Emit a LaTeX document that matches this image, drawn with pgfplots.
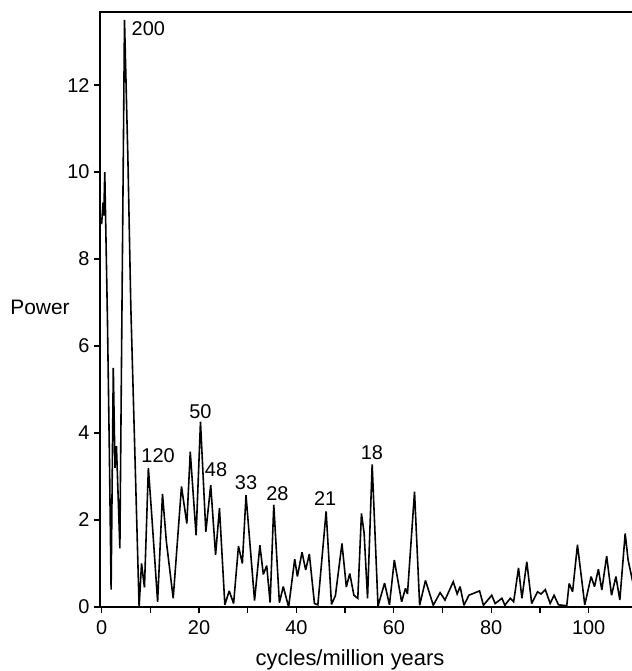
\documentclass[border=0pt]{standalone}
\usepackage{fontspec}
\setmainfont{Liberation Sans}
\usepackage{pgfplots}
\pgfplotsset{compat=1.18}
\begin{document}
\begin{tikzpicture}
\begin{axis}[
  at={(0,0)}, anchor=south west,
  scale only axis, width=532bp, height=595bp,
  xmin=-0.33, xmax=108.9, ymin=0, ymax=13.68,
  axis x line*=bottom, axis y line*=left,
  xtick={0,20,...,100}, minor xtick={10,30,...,110},
  ytick={0,2,...,12},
  tick align=outside, major tick length=6bp, minor tick length=6bp,
  tick style={line width=1.3pt, black},
  axis line style={line width=1.5pt, -},
  tick label style={font=\fontsize{20}{24}\selectfont},
  /pgf/number format/assume math mode=true,
  xticklabel style={yshift=-4bp},
  yticklabel style={xshift=-1bp},
  clip=true,
]
\addplot[black, line width=1.6pt, mark=none, line join=miter, miter limit=3] coordinates {
(0.0,8.8) (0.3,9.3) (0.45,9.0) (0.65,10.0) (1.2,6.6) (1.6,3.5) (1.95,0.4)
(2.4,5.5) (2.75,3.2) (3.05,3.7) (3.75,1.35) (4.7,13.5) (5.4,10.3) (6.0,6.9)
(7.7,0.0) (8.2,1.0) (8.8,0.45) (9.6,3.2) (10.3,2.1) (11.5,0.12) (12.5,2.6)
(13.3,1.5) (14.7,0.2) (16.4,2.77) (17.5,1.92) (18.2,3.57) (19.4,1.65)
(20.3,4.26) (21.4,1.73) (22.4,2.8) (23.4,1.2) (24.2,2.27) (25.3,0.05)
(26.2,0.37) (27.1,0.08) (28.1,1.4) (28.9,1.0) (29.65,2.57) (31.4,0.15)
(32.5,1.42) (33.2,0.75) (33.9,0.95) (34.6,0.1) (35.35,2.35) (36.5,0.1)
(37.3,0.47) (38.4,0.0) (39.65,1.1) (40.2,0.7) (41.15,1.26) (41.9,0.85)
(42.65,1.22) (43.7,0.08) (44.4,0.05) (46.1,2.2) (47.2,0.06) (48.0,0.26)
(49.35,1.46) (50.25,0.46) (50.95,0.77) (51.8,0.27) (52.6,0.2) (53.35,2.15)
(53.9,1.7) (54.6,0.2) (55.55,3.28) (56.75,0.02) (58.1,0.55) (59.1,0.05)
(60.1,1.08) (61.6,0.12) (62.4,0.43) (62.8,0.3) (64.25,2.65) (65.3,0.04)
(66.5,0.61) (68.1,0.04) (69.5,0.33) (70.5,0.16) (72.2,0.58) (73.0,0.3)
(73.6,0.47) (74.4,0.04) (75.4,0.27) (77.6,0.37) (78.4,0.04) (80.1,0.27)
(80.8,0.08) (82.2,0.2) (82.8,0.04) (83.9,0.2) (84.6,0.12) (85.6,0.9)
(86.3,0.2) (87.3,1.04) (88.3,0.08) (89.5,0.35) (90.2,0.3) (91.1,0.4)
(92.1,0.08) (92.9,0.27) (93.8,0.05) (95.5,0.03) (96.0,0.54) (96.7,0.35)
(97.7,1.43) (99.2,0.05) (100.5,0.7) (101.2,0.47) (102.0,0.87) (102.7,0.39)
(103.7,1.17) (104.7,0.27) (105.6,0.7) (106.4,0.16) (107.5,1.69) (108.1,1.08)
(109.2,0.5)
};
\begin{scope}[every node/.style={font=\fontsize{20}{24}\selectfont, inner sep=0pt}]
\node at (axis cs:9.6,13.29) {200};
\node at (axis cs:11.6,3.47) {120};
\node at (axis cs:20.3,4.5) {50};
\node at (axis cs:23.5,3.15) {48};
\node at (axis cs:29.65,2.87) {33};
\node at (axis cs:36.1,2.6) {28};
\node at (axis cs:45.9,2.5) {21};
\node at (axis cs:55.5,3.54) {18};
\end{scope}
\end{axis}
\draw[line width=1.5pt] (-0.75pt,595bp) -- (532bp,595bp);
\node[font=\fontsize{21}{25}\selectfont] at (-60bp,300bp) {Power};
\node[font=\fontsize{22}{26}\selectfont] at (250bp,-53bp) {cycles/million years};
\pgfresetboundingbox
\path[use as bounding box] (-100bp,-64bp) rectangle (532bp,607bp);
\end{tikzpicture}
\end{document}
